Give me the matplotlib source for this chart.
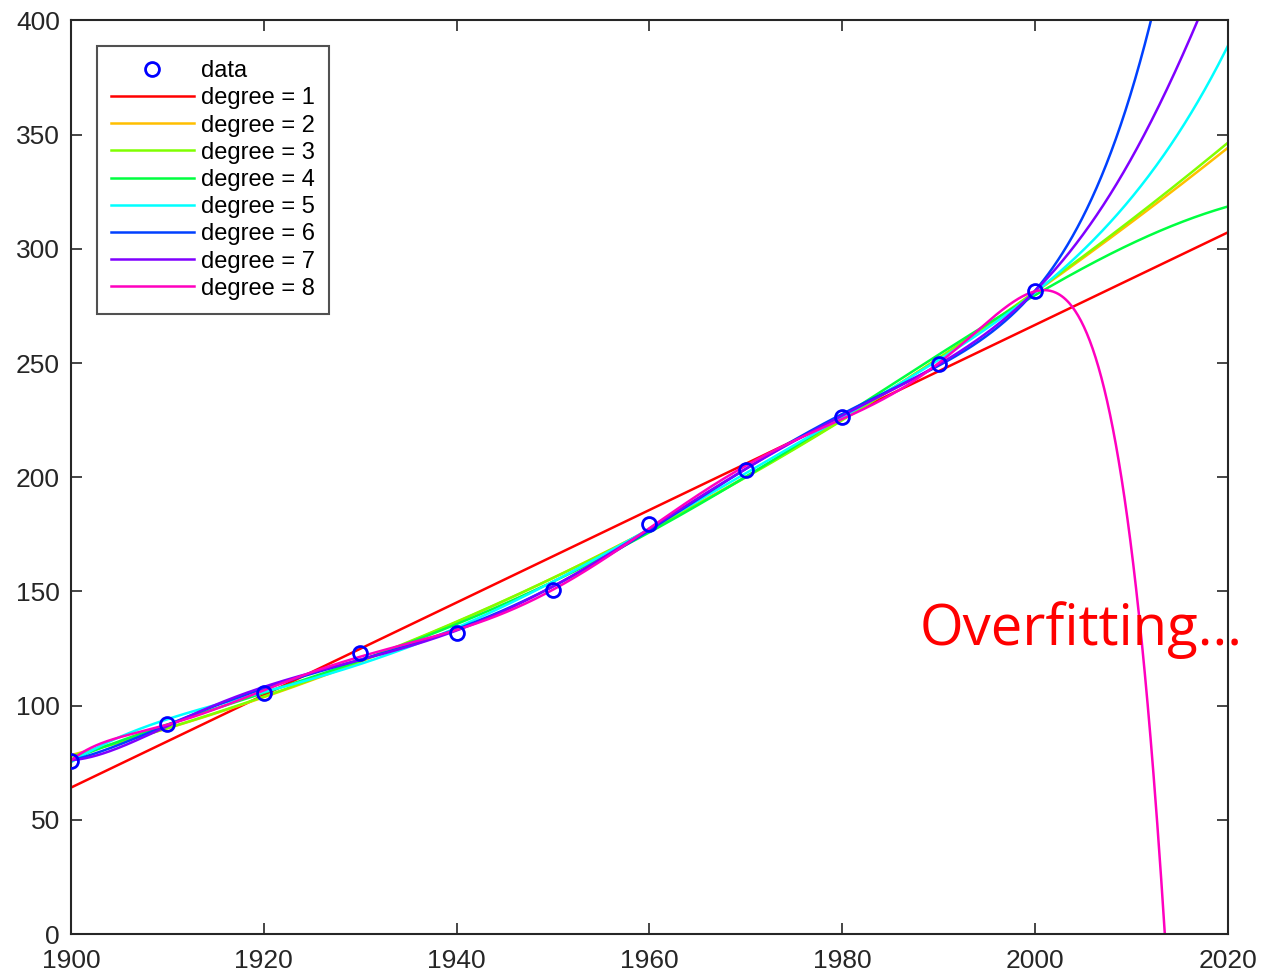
import numpy as np
import matplotlib.pyplot as plt
import matplotlib.colors as mcolors

# US census population (millions)
years = np.array([1900, 1910, 1920, 1930, 1940, 1950, 1960, 1970, 1980, 1990, 2000])
pop = np.array([75.995, 91.972, 105.711, 123.203, 131.669, 150.697,
                179.323, 203.212, 226.505, 249.633, 281.422])
degrees = [1, 2, 3, 4, 5, 6, 7, 8]
x_ticks = [1900, 1920, 1940, 1960, 1980, 2000, 2020]
y_ticks = [0, 50, 100, 150, 200, 250, 300, 350, 400]

plt.rcParams['font.family'] = ['Liberation Sans', 'DejaVu Sans']

fig = plt.figure(figsize=(12.67, 9.71), dpi=100)
ax = fig.add_axes([0.056, 0.038, 0.913, 0.941])

ax.plot(years, pop, 'o', mfc='none', mec='#0000ff', mew=2, ms=10, label='data', zorder=5)

# scaled x for stable fitting
xs = np.linspace(1900, 2020, 1200)
t = (years - 1950) / 50.0
ts = (xs - 1950) / 50.0
for d in degrees:
    c = np.polyfit(t, pop, d)
    col = mcolors.hsv_to_rgb(((d - 1) / 8.0, 1, 1))
    ax.plot(xs, np.polyval(c, ts), color=col, lw=1.8, label='degree = %d' % d)

ax.set_xlim(1900, 2020)
ax.set_ylim(0, 400)
ax.set_xticks(x_ticks)
ax.set_yticks(y_ticks)
ax.tick_params(direction='in', top=True, right=True, labelsize=19, length=8, width=1.2,
               colors='#262626', pad=8)
ax.tick_params(axis='x', pad=11)
for s in ax.spines.values():
    s.set_linewidth(1.5)
    s.set_color('#262626')

leg = ax.legend(loc='upper left', fontsize=17, frameon=True, fancybox=False, edgecolor='#262626',
                borderpad=0.6, labelspacing=0.22, handlelength=3.5, handletextpad=0.3,
                bbox_to_anchor=(0.0225, 0.972), borderaxespad=0)
leg.get_frame().set_linewidth(1.5)

ax.text(1988.0, 133, 'Overfitting...', color='red', fontsize=40.5, family=['Open Sans', 'DejaVu Sans'],
        va='center', ha='left', clip_on=False, zorder=10)

fig.savefig('out.png', dpi=100)
